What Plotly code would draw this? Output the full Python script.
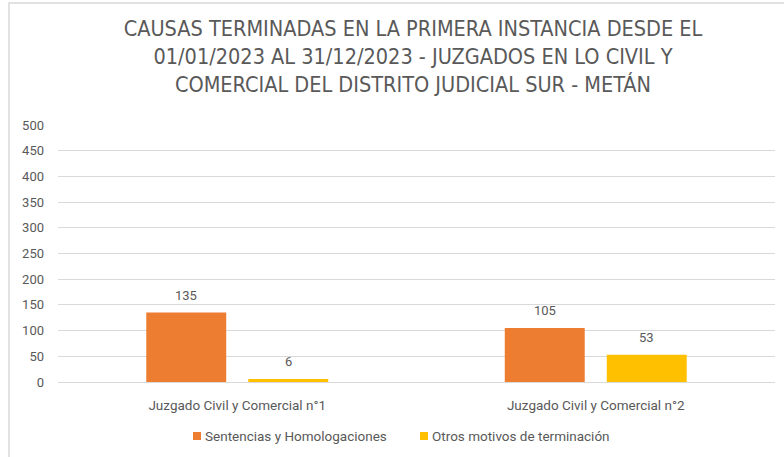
import plotly.graph_objects as go

categories = ["Juzgado Civil y Comercial n°1", "Juzgado Civil y Comercial n°2"]
sentencias = [135, 105]
otros = [6, 53]
series_names = ["Sentencias y Homologaciones", "Otros motivos de terminación"]
series_colors = ["#ED7D31", "#FFC000"]
y_ticks = [0, 50, 100, 150, 200, 250, 300, 350, 400, 450, 500]

title_text = ("CAUSAS TERMINADAS EN LA PRIMERA INSTANCIA DESDE EL<br>"
              "01/01/2023 AL 31/12/2023 - JUZGADOS EN LO CIVIL Y<br>"
              "COMERCIAL DEL DISTRITO JUDICIAL SUR - METÁN")

text_color = "#595959"
font_main = "Roboto"
font_title = "DejaVu Sans Condensed, Roboto"

W, H = 784, 457
ml, mr, mt, mb = 58, 9, 125, 75
pw, ph = W - ml - mr, H - mt - mb

bargap, bargroupgap = 0.431, 0.216
slot_px = pw / len(categories) * (1 - bargap) / 2   # width of one bar slot in a group

fig = go.Figure()
annotations = []
for i, (name, vals, color) in enumerate(zip(series_names, [sentencias, otros], series_colors)):
    fig.add_trace(go.Bar(
        x=categories, y=vals, name=name,
        marker=dict(color=color, line=dict(width=0)),
        showlegend=False,
    ))
    # value labels above each bar
    offset = (i - 0.5) * slot_px
    for cat, v in zip(categories, vals):
        annotations.append(dict(x=cat, y=v, xref="x", yref="y", text=str(v),
                                xshift=offset, yshift=8, yanchor="bottom",
                                showarrow=False,
                                font=dict(family=font_main, size=13, color=text_color)))

# Chart border and legend swatches
shapes = [dict(type="rect", xref="paper", yref="paper",
               x0=(9 - ml) / pw, x1=(W + 20 - ml) / pw,
               y0=-(H + 20 - (H - mb)) / ph, y1=1 + (mt - 3) / ph,
               line=dict(color="#D9D9D9", width=1.5), fillcolor="rgba(0,0,0,0)",
               layer="below")]
legend_items = [(193, series_names[0], series_colors[0]),
                (420, series_names[1], series_colors[1])]
ly = 436
for px, name, color in legend_items:
    shapes.append(dict(type="rect", xref="paper", yref="paper",
                       x0=(px - ml) / pw, x1=(px + 8 - ml) / pw,
                       y0=-(ly + 4 - (H - mb)) / ph, y1=-(ly - 4 - (H - mb)) / ph,
                       line=dict(width=0), fillcolor=color))
    annotations.append(dict(text=name, xref="paper", yref="paper",
                            x=(px + 10 - ml) / pw, y=-(ly - (H - mb)) / ph,
                            xanchor="left", yanchor="middle", showarrow=False,
                            font=dict(family=font_main, size=13.5, color=text_color)))

fig.update_layout(
    width=W, height=H,
    margin=dict(l=ml, r=mr, t=mt, b=mb),
    paper_bgcolor="white", plot_bgcolor="white",
    barmode="group", bargap=bargap, bargroupgap=bargroupgap,
    title=dict(text=title_text, x=413 / W, xanchor="center",
               y=1 - 36 / H, yanchor="top",
               font=dict(family=font_title, size=21.5, color=text_color, weight=300)),
    showlegend=False,
    xaxis=dict(showline=True, linecolor="#D9D9D9", linewidth=1, ticks="",
               tickfont=dict(family=font_main, size=13.5, color=text_color),
               ticklabelstandoff=11, showgrid=False, fixedrange=True),
    yaxis=dict(range=[0, 500], tickvals=y_ticks, showgrid=True, gridcolor="#D9D9D9",
               gridwidth=1, zeroline=False, ticks="", showline=False,
               tickfont=dict(family=font_main, size=13, color=text_color),
               ticklabelstandoff=13, fixedrange=True),
    shapes=shapes,
    annotations=annotations,
)

fig.write_html("out.html")
